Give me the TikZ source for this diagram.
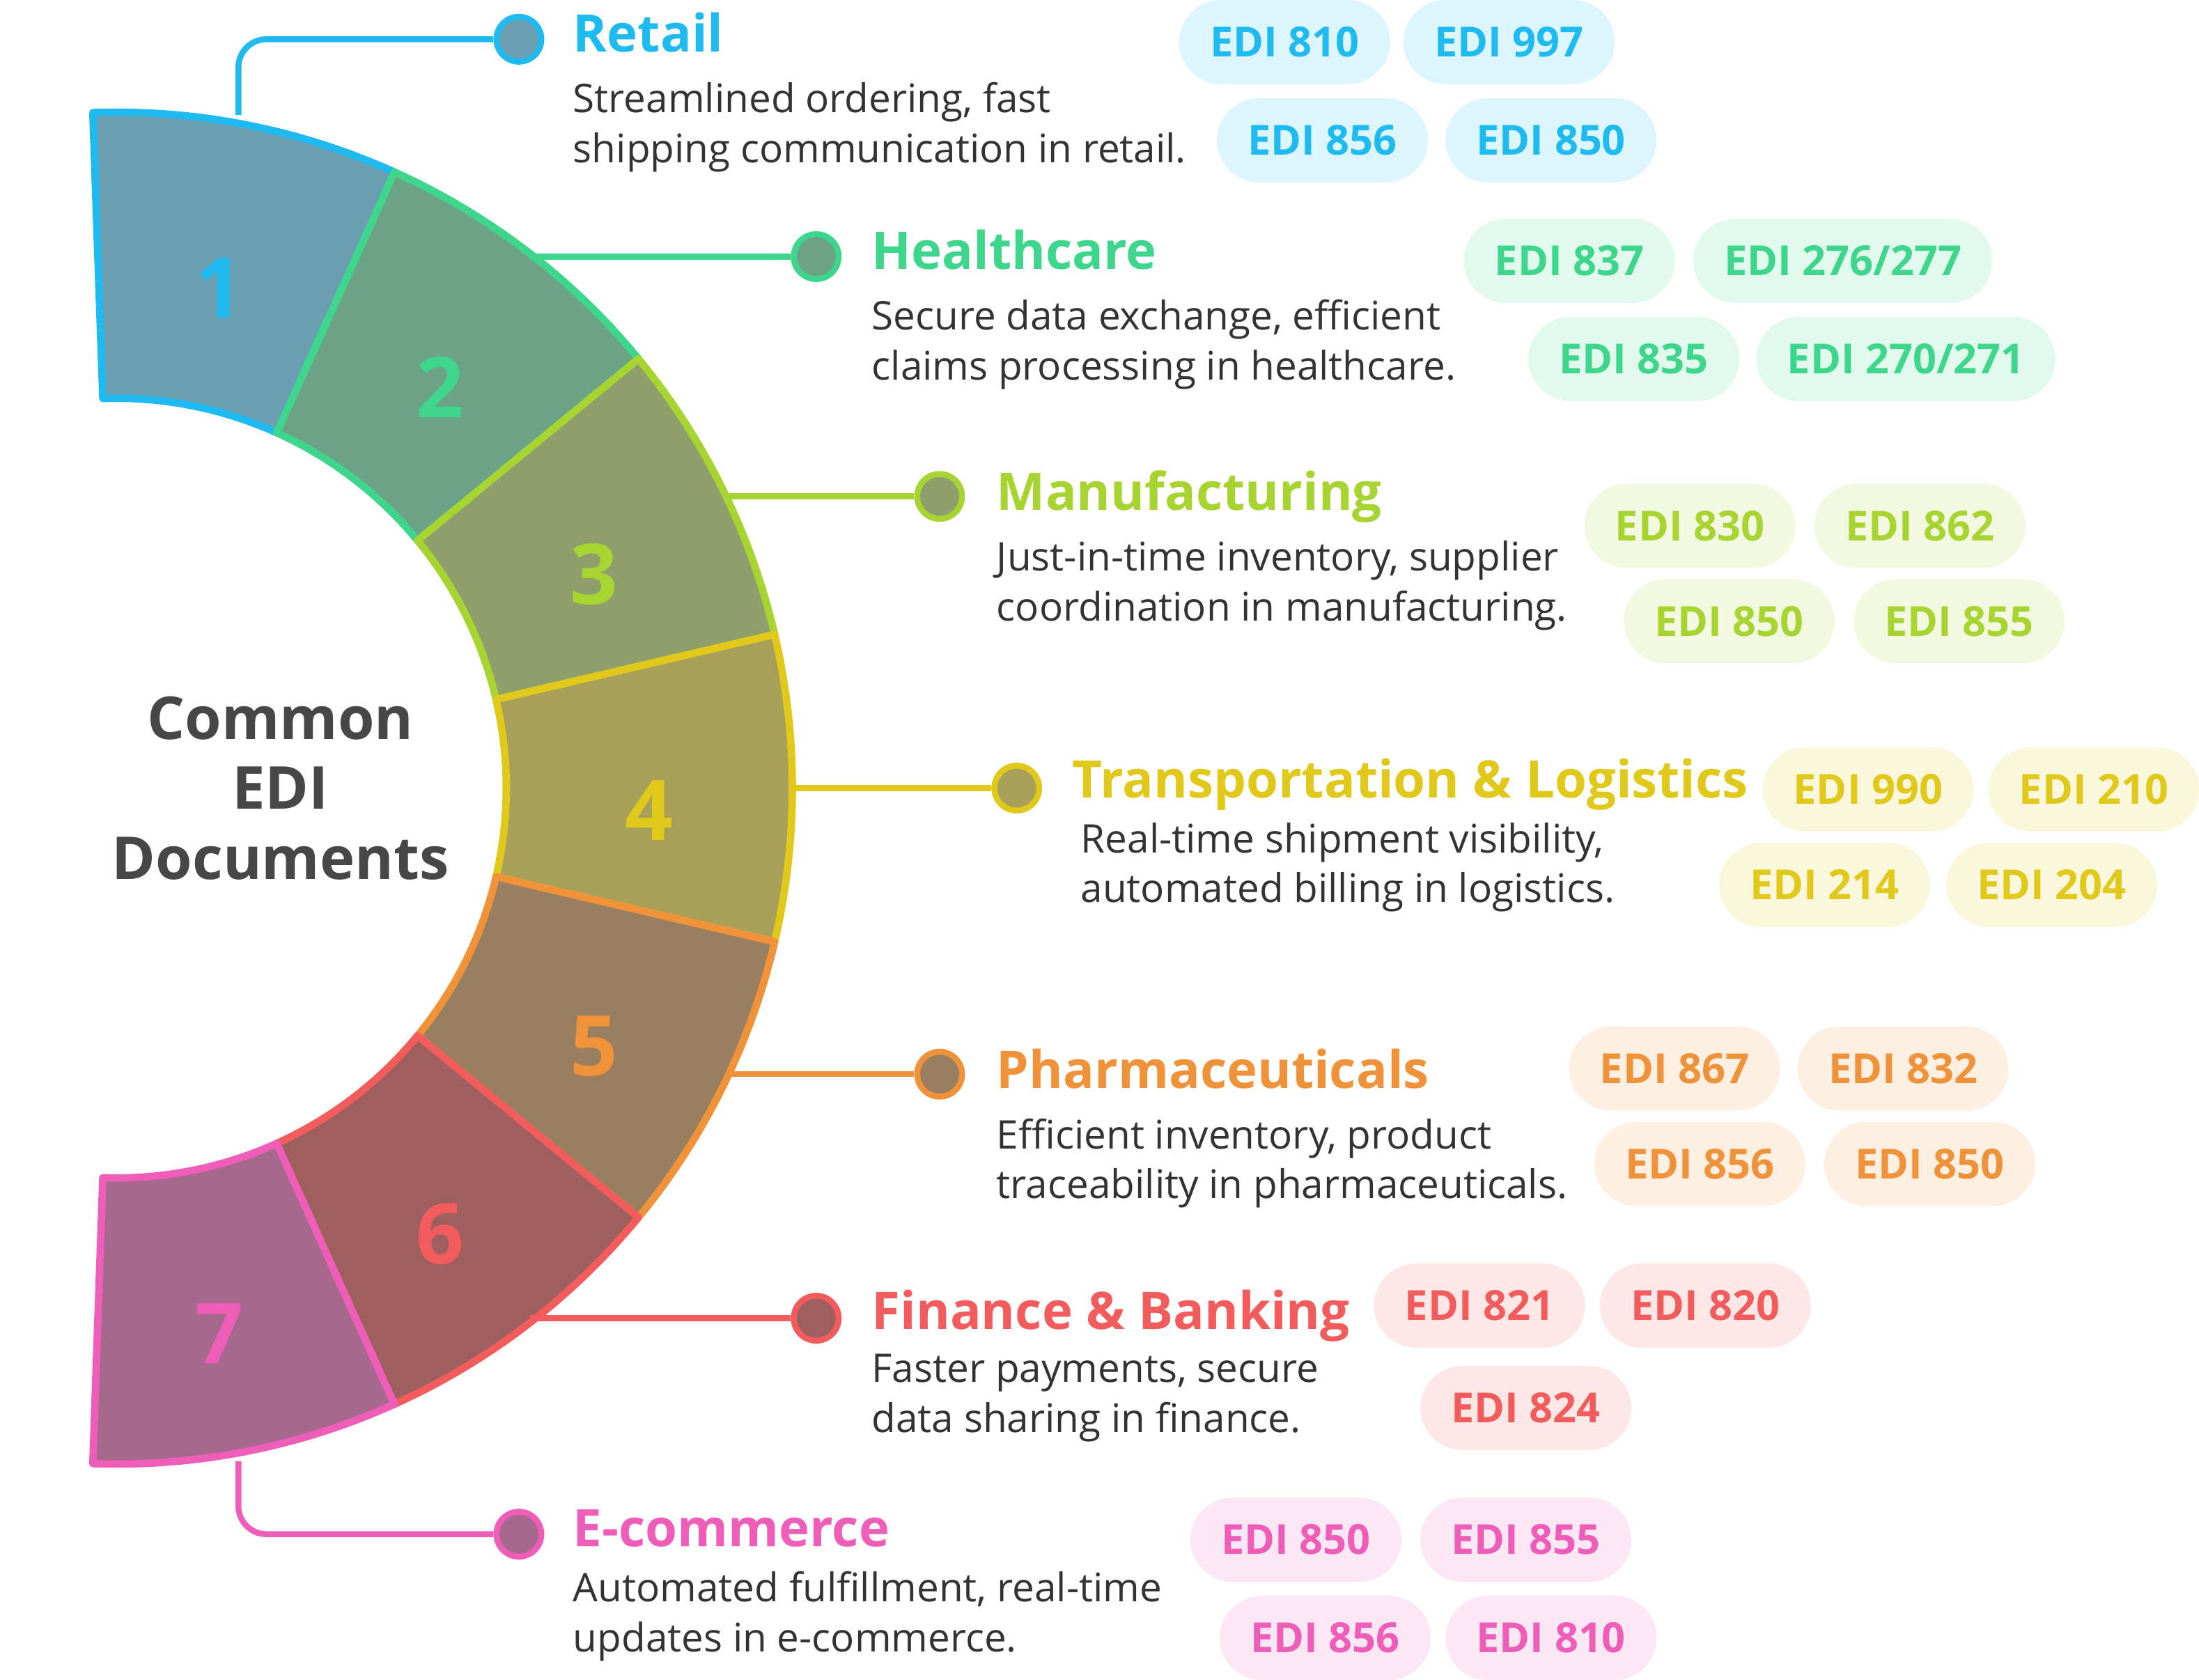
\documentclass[tikz,border=0pt]{standalone}
\usepackage{fontspec}
\setmainfont{Open Sans}
\usetikzlibrary{positioning}
\definecolor{cA}{HTML}{1FBBF0}\definecolor{fA}{HTML}{6A9EB0}
\definecolor{cB}{HTML}{3DD68C}\definecolor{fB}{HTML}{6CA386}
\definecolor{cC}{HTML}{A8D431}\definecolor{fC}{HTML}{8F9F6C}
\definecolor{cD}{HTML}{E0C91A}\definecolor{fD}{HTML}{A8A058}
\definecolor{cE}{HTML}{F0923A}\definecolor{fE}{HTML}{9A7E60}
\definecolor{cF}{HTML}{F25C5C}\definecolor{fF}{HTML}{A05F5F}
\definecolor{cG}{HTML}{EE5DB8}\definecolor{fG}{HTML}{A6688D}
\tikzset{
  title/.style={anchor=base west,font=\fontsize{10.5}{12}\selectfont\bfseries,text=#1,inner sep=0pt},
  desc/.style={anchor=north west,align=left,font=\fontsize{8}{10.1}\selectfont,text=black!80,inner sep=0pt},
  badge/.style={fill=#1!15,text=#1,rounded corners=0.3cm,minimum height=0.6cm,inner xsep=0.22cm,font=\fontsize{8.4}{10}\selectfont\bfseries},
  dot/.style={circle,draw=#1,line width=1.2pt,minimum size=0.32cm,inner sep=0pt},
  link/.style={draw=#1,line width=1.2pt}
}
\begin{document}
\begin{tikzpicture}[x=0.01cm,y=-0.01cm]
\useasboundingbox (0,0) rectangle (1568,1198);
% ring segments
\foreach \i/\c/\f in {1/cA/fA,2/cB/fB,3/cC/fC,4/cD/fD,5/cE/fE,6/cF/fF,7/cG/fG}{
  \pgfmathsetmacro\aa{-92+(\i-1)*26.2857}
  \pgfmathsetmacro\ab{\aa+26.2857}
  \pgfmathsetmacro\am{\aa+13.1429}
  \draw[fill=\f,draw=\c,line width=1.5pt,line join=round]
    plot[domain=\aa:\ab,samples=30] ({83+482*cos(\x)},{562+482*sin(\x)})
    -- plot[domain=\ab:\aa,samples=30] ({83+278*cos(\x)},{562+278*sin(\x)}) -- cycle;
  \node[text=\c,font=\fontsize{17}{17}\selectfont\bfseries] (n\i) at ({83+380*cos(\am)},{578+380*sin(\am)}) {\i};
}
\node[align=center,font=\fontsize{12}{14.2}\selectfont\bfseries,text=black!72] (center) at (200,562) {Common\\EDI\\Documents};
% dots
\node[dot=cA,fill=fA] (d1) at (370,28) {};
\node[dot=cB,fill=fB] (d2) at (582,183) {};
\node[dot=cC,fill=fC] (d3) at (670,354) {};
\node[dot=cD,fill=fD] (d4) at (725,562) {};
\node[dot=cE,fill=fE] (d5) at (670,766) {};
\node[dot=cF,fill=fF] (d6) at (582,940) {};
\node[dot=cG,fill=fG] (d7) at (370,1094) {};
\coordinate (r1) at (170,82);
\coordinate (r2) at (378,183);
\coordinate (r3) at (520,354);
\coordinate (r4) at (565,562);
\coordinate (r5) at (520,766);
\coordinate (r6) at (378,940);
\coordinate (r7) at (170,1042);
\draw[link=cA,rounded corners=0.2cm] (r1) |- (d1);
\draw[link=cB] (r2) -- (d2);
\draw[link=cC] (r3) -- (d3);
\draw[link=cD] (r4) -- (d4);
\draw[link=cE] (r5) -- (d5);
\draw[link=cF] (r6) -- (d6);
\draw[link=cG,rounded corners=0.2cm] (r7) |- (d7);
% titles and texts
\node[title=cA] (t1) at (408,37) {Retail};
\node[desc] (s1) at (408,58) {Streamlined ordering, fast\\shipping communication in retail.};
\node[title=cB] (t2) at (621,192) {Healthcare};
\node[desc] (s2) at (621,213) {Secure data exchange, efficient\\claims processing in healthcare.};
\node[title=cC] (t3) at (710,364) {Manufacturing};
\node[desc] (s3) at (710,385) {Just-in-time inventory, supplier\\coordination in manufacturing.};
\node[title=cD] (t4) at (764,569) {Transportation \& Logistics};
\node[desc] (s4) at (770,586) {Real-time shipment visibility,\\automated billing in logistics.};
\node[title=cE] (t5) at (710,776) {Pharmaceuticals};
\node[desc] (s5) at (710,797) {Efficient inventory, product\\traceability in pharmaceuticals.};
\node[title=cF] (t6) at (621,948) {Finance \& Banking};
\node[desc] (s6) at (621,965) {Faster payments, secure\\data sharing in finance.};
\node[title=cG] (t7) at (408,1103) {E-commerce};
\node[desc] (s7) at (408,1120) {Automated fulfillment, real-time\\updates in e-commerce.};
% badges
\node[badge=cA] (b1a) at (916,30) {EDI 810};
\node[badge=cA] (b1b) at (1076,30) {EDI 997};
\node[badge=cA] (b1c) at (943,100) {EDI 856};
\node[badge=cA] (b1d) at (1106,100) {EDI 850};
\node[badge=cB] (b2a) at (1119,186) {EDI 837};
\node[badge=cB] (b2b) at (1314,186) {EDI 276/277};
\node[badge=cB] (b2c) at (1165,256) {EDI 835};
\node[badge=cB] (b2d) at (1359,256) {EDI 270/271};
\node[badge=cC] (b3a) at (1205,375) {EDI 830};
\node[badge=cC] (b3b) at (1369,375) {EDI 862};
\node[badge=cC] (b3c) at (1233,443) {EDI 850};
\node[badge=cC] (b3d) at (1397,443) {EDI 855};
\node[badge=cD] (b4a) at (1332,563) {EDI 990};
\node[badge=cD] (b4b) at (1493,563) {EDI 210};
\node[badge=cD] (b4c) at (1301,631) {EDI 214};
\node[badge=cD] (b4d) at (1463,631) {EDI 204};
\node[badge=cE] (b5a) at (1194,762) {EDI 867};
\node[badge=cE] (b5b) at (1357,762) {EDI 832};
\node[badge=cE] (b5c) at (1212,830) {EDI 856};
\node[badge=cE] (b5d) at (1376,830) {EDI 850};
\node[badge=cF] (b6a) at (1055,931) {EDI 821};
\node[badge=cF] (b6b) at (1216,931) {EDI 820};
\node[badge=cF] (b6c) at (1088,1004) {EDI 824};
\node[badge=cG] (b7a) at (924,1098) {EDI 850};
\node[badge=cG] (b7b) at (1088,1098) {EDI 855};
\node[badge=cG] (b7c) at (945,1168) {EDI 856};
\node[badge=cG] (b7d) at (1106,1168) {EDI 810};
\end{tikzpicture}
\end{document}
